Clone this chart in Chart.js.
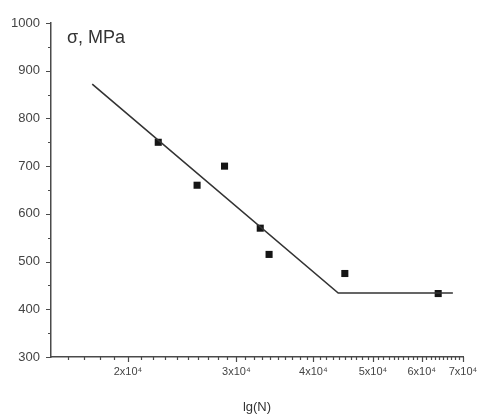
<!DOCTYPE html>
<html>
<head>
<meta charset="utf-8">
<script src="https://cdn.jsdelivr.net/npm/chart.js@4/dist/chart.umd.min.js"></script>
<style>
    html, body { margin: 0; padding: 0; background: #fff; }
    #wrap { width: 478px; height: 415px; }
</style>
</head>
<body>
<div id="wrap"><canvas id="sn"></canvas></div>
<script>
// measured points (N, sigma)
var pointsN = [22400, 25900, 28700, 32800, 33900, 45000, 63800];
var pointsSigma = [750, 660, 700, 570, 515, 475, 433];

// fitted S-N line
var fitN = [17500, 43900, 67400];
var fitSigma = [872, 434, 434];

// axes
var xMajorTicks = [20000, 30000, 40000, 50000, 60000, 70000];
var xTickLabels = ['2x10\u2074', '3x10\u2074', '4x10\u2074', '5x10\u2074', '6x10\u2074', '7x10\u2074'];
var xMin = 15000, xMax = 70000, xMinorStep = 1000;
var yMajorTicks = [300, 400, 500, 600, 700, 800, 900, 1000];
var yMinorTicks = [350, 450, 550, 650, 750, 850, 950];

var axisColor = '#4a4a4a';
var fontFamily = '"Liberation Sans", Arial, sans-serif';

var tickPlugin = {
    id: 'tickMarks',
    afterDraw: function (chart) {
        var ctx = chart.ctx;
        var xs = chart.scales.x, ys = chart.scales.y;
        var area = chart.chartArea;
        ctx.save();
        ctx.strokeStyle = axisColor;
        ctx.lineWidth = 1.2;
        ctx.beginPath();
        for (var v = xMin + xMinorStep; v <= xMax; v += xMinorStep) {
            var px = Math.round(xs.getPixelForValue(v)) + 0.5;
            var len = xMajorTicks.indexOf(v) >= 0 ? 5 : 3;
            ctx.moveTo(px, area.bottom);
            ctx.lineTo(px, area.bottom + len);
        }
        yMajorTicks.forEach(function (v) {
            var py = Math.round(ys.getPixelForValue(v)) + 0.5;
            ctx.moveTo(area.left - 5, py);
            ctx.lineTo(area.left, py);
        });
        yMinorTicks.forEach(function (v) {
            var py = Math.round(ys.getPixelForValue(v)) + 0.5;
            ctx.moveTo(area.left - 3, py);
            ctx.lineTo(area.left, py);
        });
        ctx.stroke();

        // y axis name inside the plot
        ctx.fillStyle = '#333';
        ctx.font = '18px ' + fontFamily;
        ctx.textBaseline = 'middle';
        ctx.fillText('\u03c3, MPa', area.left + 16, area.top + 15);
        ctx.restore();
    }
};

new Chart(document.getElementById('sn').getContext('2d'), {
    type: 'scatter',
    data: {
        datasets: [{
            label: 'fit',
            data: fitN.map(function (n, i) { return { x: n, y: fitSigma[i] }; }),
            showLine: true,
            borderColor: '#333',
            borderWidth: 1.6,
            pointRadius: 0,
            fill: false
        }, {
            label: 'test',
            data: pointsN.map(function (n, i) { return { x: n, y: pointsSigma[i] }; }),
            showLine: false,
            pointStyle: 'rect',
            pointRadius: 5,
            backgroundColor: '#151515',
            borderColor: '#151515',
            borderWidth: 0
        }]
    },
    options: {
        responsive: true,
        maintainAspectRatio: false,
        animation: false,
        layout: { padding: { left: 0, right: 15, top: 23, bottom: 0 } },
        plugins: {
            legend: { display: false },
            tooltip: { enabled: false }
        },
        scales: {
            x: {
                type: 'logarithmic',
                min: xMin,
                max: xMax,
                afterBuildTicks: function (scale) {
                    scale.ticks = xMajorTicks.map(function (v) { return { value: v }; });
                },
                afterFit: function (scale) {
                    scale.height = 58;
                    scale.paddingLeft = 0;
                    scale.paddingRight = 0;
                },
                grid: { display: false, drawTicks: false },
                border: { display: true, color: axisColor, width: 1.5 },
                ticks: {
                    autoSkip: false,
                    maxRotation: 0,
                    padding: 8,
                    color: '#444',
                    font: { family: fontFamily, size: 11 },
                    callback: function (value) {
                        var i = xMajorTicks.indexOf(value);
                        return i >= 0 ? xTickLabels[i] : '';
                    }
                },
                title: {
                    display: true,
                    text: 'lg(N)',
                    color: '#333',
                    font: { family: fontFamily, size: 13 },
                    padding: { top: 0, bottom: 0 }
                }
            },
            y: {
                min: 300,
                max: 1000,
                afterBuildTicks: function (scale) {
                    scale.ticks = yMajorTicks.map(function (v) { return { value: v }; });
                },
                afterFit: function (scale) {
                    scale.width = 51;
                    scale.paddingTop = 0;
                    scale.paddingBottom = 0;
                },
                grid: { display: false, drawTicks: false },
                border: { display: true, color: axisColor, width: 1.5 },
                ticks: {
                    padding: 11,
                    color: '#444',
                    font: { family: fontFamily, size: 13 },
                    callback: function (value) { return String(value); }
                }
            }
        }
    },
    plugins: [tickPlugin]
});
</script>
</body>
</html>
